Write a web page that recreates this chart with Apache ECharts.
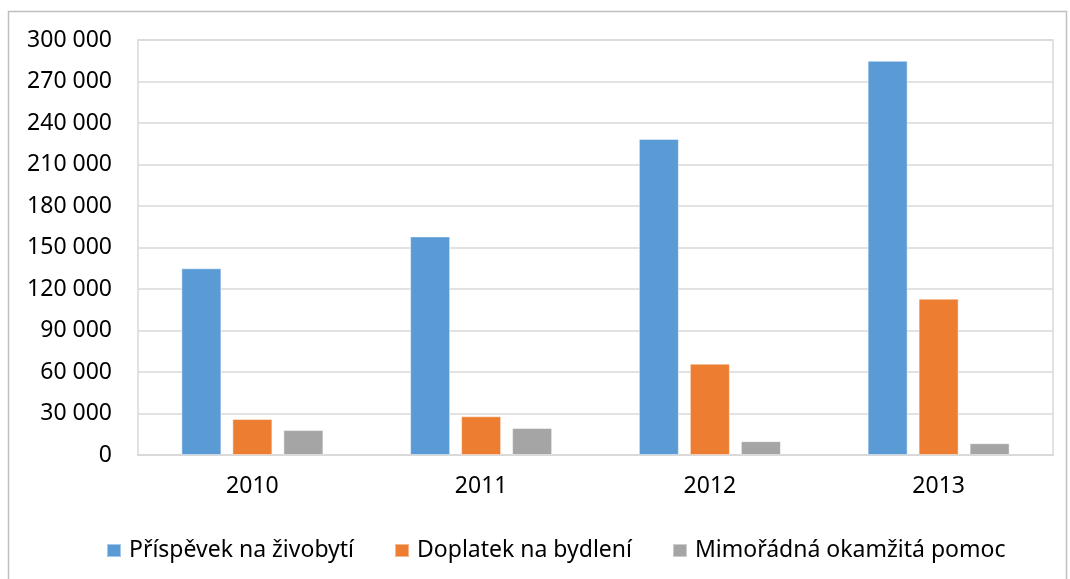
<!DOCTYPE html>
<html>

<head>
    <meta charset="utf-8">
    <title>Dávky v hmotné nouzi</title>
    <script src="https://cdn.jsdelivr.net/npm/echarts@6/dist/echarts.min.js"></script>
    <style>
        html, body {
            margin: 0;
            padding: 0;
            background-color: #fff;
        }

        #chart {
            width: 1070px;
            height: 579px;
        }
    </style>
</head>

<body>
    <div id="chart"></div>
    <script type="text/javascript">
        // data
        const years = ['2010', '2011', '2012', '2013'];
        const prispevek = [135000, 158000, 228500, 285000];
        const doplatek = [26000, 28000, 66000, 113000];
        const mimoradna = [18000, 19500, 10000, 8500];
        const seriesNames = ['Příspěvek na živobytí', 'Doplatek na bydlení', 'Mimořádná okamžitá pomoc'];
        const seriesColors = ['#5B9BD5', '#ED7D31', '#A5A5A5'];
        const yTicks = [0, 30000, 60000, 90000, 120000, 150000, 180000, 210000, 240000, 270000, 300000];

        const font = "'Noto Sans', 'Open Sans', sans-serif";

        // 300000 -> "300 000"
        function fmt(v) {
            return String(v).replace(/\B(?=(\d{3})+(?!\d))/g, ' ');
        }

        const chart = echarts.init(document.getElementById('chart'));

        const option = {
            animation: false,
            textStyle: { fontFamily: font },
            graphic: [{
                // outer frame of the chart, bottom edge is out of the picture
                type: 'rect',
                shape: { x: 8.5, y: 11.5, width: 1058, height: 600 },
                style: { fill: 'none', stroke: '#bfbfbf', lineWidth: 1.5 },
                z: -1
            }],
            grid: {
                left: 138,
                right: 17,
                top: 40,
                bottom: 124,
                show: true,
                borderColor: '#d9d9d9',
                borderWidth: 1.5
            },
            legend: {
                data: seriesNames,
                left: 101,
                top: 534,
                itemWidth: 14,
                itemHeight: 13,
                itemGap: 40,
                icon: 'rect',
                textStyle: {
                    fontFamily: font,
                    fontSize: 23,
                    color: '#000',
                    padding: [0, 0, 0, 3]
                }
            },
            xAxis: {
                type: 'category',
                data: years,
                axisTick: { show: false },
                axisLine: { lineStyle: { color: '#d9d9d9', width: 2 } },
                axisLabel: {
                    fontFamily: font,
                    fontSize: 23,
                    color: '#000',
                    margin: 20
                }
            },
            yAxis: {
                type: 'value',
                min: yTicks[0],
                max: yTicks[yTicks.length - 1],
                interval: yTicks[1] - yTicks[0],
                axisLine: { show: false },
                axisTick: { show: false },
                splitLine: { lineStyle: { color: '#d9d9d9', width: 1.5 } },
                axisLabel: {
                    fontFamily: font,
                    fontSize: 23,
                    color: '#000',
                    margin: 26,
                    formatter: fmt
                }
            },
            series: [prispevek, doplatek, mimoradna].map(function (vals, i) {
                return {
                    name: seriesNames[i],
                    type: 'bar',
                    data: vals,
                    barWidth: 40,
                    barGap: '27.5%',
                    itemStyle: {
                        color: seriesColors[i],
                        borderColor: 'rgba(255,255,255,0.45)',
                        borderWidth: 1
                    }
                };
            })
        };

        chart.setOption(option);
    </script>
</body>

</html>
